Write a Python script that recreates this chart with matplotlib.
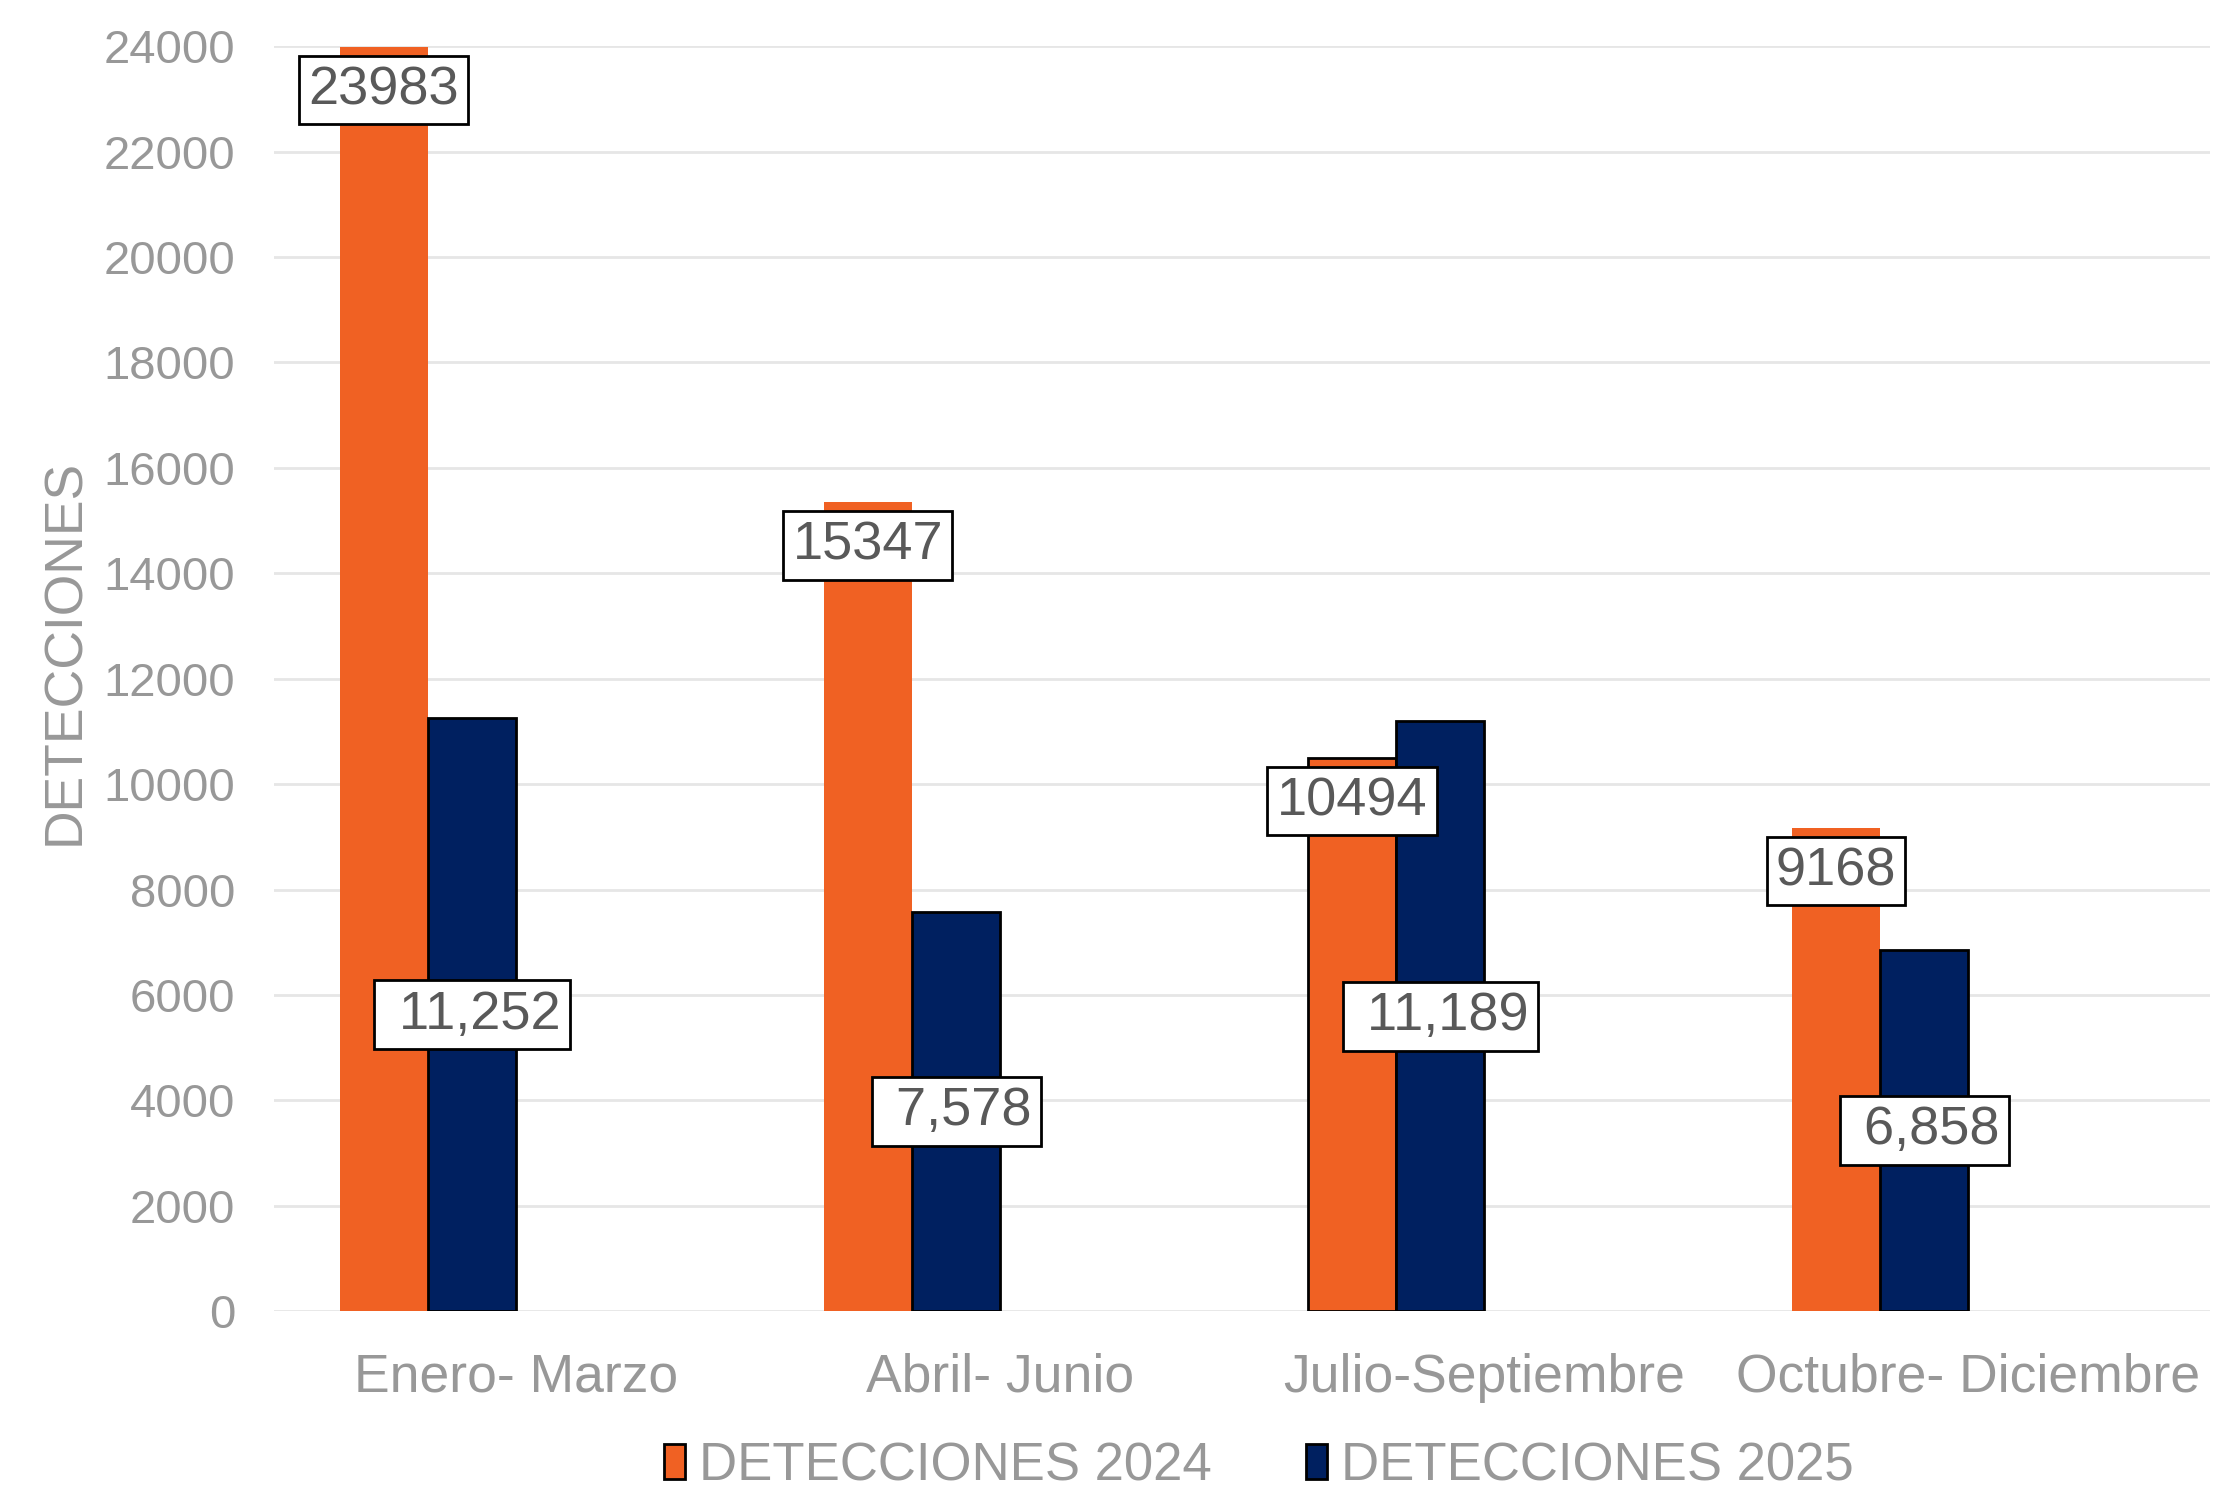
import numpy as np
import matplotlib.pyplot as plt
from matplotlib.patches import Patch

categories = ['Enero- Marzo', 'Abril- Junio', 'Julio-Septiembre', 'Octubre- Diciembre']
det_2024 = [23983, 15347, 10494, 9168]
det_2025 = [11252, 7578, 11189, 6858]
labels_2024 = ['23983', '15347', '10494', '9168']
labels_2025 = [' 11,252', ' 7,578', ' 11,189', ' 6,858']
edge_2024 = ['none', 'none', 'black', 'none']

orange = '#F06123'
navy = '#002060'
grey = '#989898'

plt.rcParams['font.family'] = ['Liberation Sans', 'DejaVu Sans']

fig = plt.figure(figsize=(22.28, 14.90), dpi=100)
ax = fig.add_axes([0.123, 0.120, 0.869, 0.849])

x = np.arange(len(categories))
w = 0.182

ax.bar(x - 1.5 * w, det_2024, w, color=orange, edgecolor=edge_2024, linewidth=2, zorder=3)
ax.bar(x - 0.5 * w, det_2025, w, color=navy, edgecolor='black', linewidth=2, zorder=3)

box = dict(boxstyle='square,pad=0.17', facecolor='white', edgecolor='black', linewidth=2)
for xi, v, lab in zip(x - 1.5 * w, det_2024, labels_2024):
    ax.annotate(lab, (xi, v), xytext=(0, -31), textcoords='offset points',
                ha='center', va='center', fontsize=39, color='#595959', bbox=box, zorder=5)
for xi, v, lab in zip(x - 0.5 * w, det_2025, labels_2025):
    ax.annotate(lab, (xi, v / 2), ha='center', va='center', fontsize=39,
                color='#595959', bbox=box, zorder=5)

ax.set_xlim(-0.5, 3.5)
ax.set_ylim(0, 24000)
ax.set_yticks(np.arange(0, 24001, 2000))
ax.set_xticks(x)
ax.set_xticklabels(categories)
ax.tick_params(axis='x', labelsize=38.5, colors=grey, length=0, pad=30)
ax.tick_params(axis='y', labelsize=34, colors=grey, length=0, pad=28)
ax.yaxis.grid(True, color='#E6E6E6', linewidth=2, zorder=0)
ax.set_axisbelow(True)
for s in ax.spines.values():
    s.set_visible(False)

ax.set_ylabel('DETECCIONES', fontsize=38.5, color=grey)
ax.yaxis.set_label_coords(-0.095, 0.521)

handles = [Patch(facecolor=orange, edgecolor='black', linewidth=2),
           Patch(facecolor=navy, edgecolor='black', linewidth=2)]
fig.legend(handles, ['DETECCIONES 2024', 'DETECCIONES 2025'], loc='center',
           bbox_to_anchor=(0.565, 0.016), ncol=2, frameon=False, fontsize=38,
           labelcolor=grey, handlelength=0.4, handleheight=0.65,
           handletextpad=0.25, columnspacing=1.8)

fig.savefig('out.png', dpi=100, facecolor='white')
